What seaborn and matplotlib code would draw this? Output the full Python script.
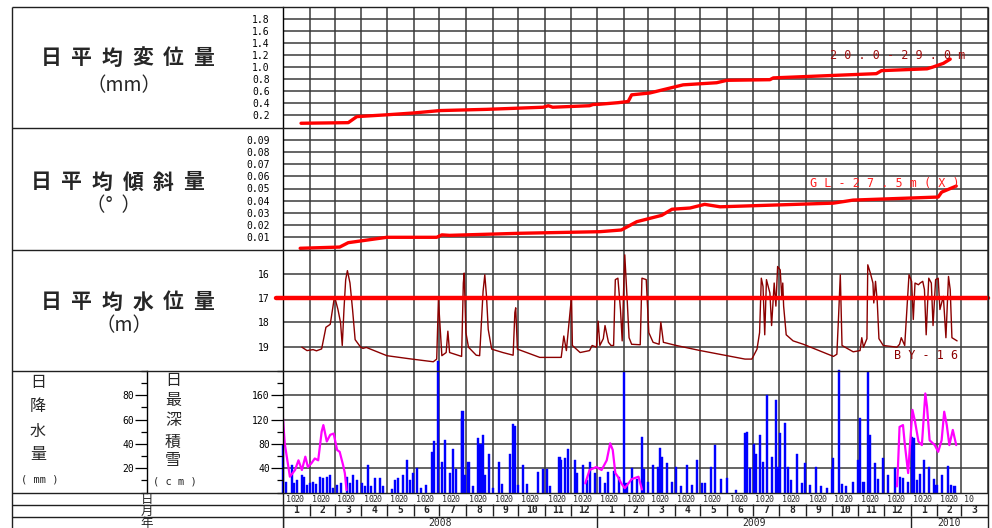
import numpy as np
import pandas as pd
import seaborn as sns
from matplotlib import pyplot as plt
from matplotlib.ticker import FixedLocator, MultipleLocator, FormatStrFormatter

# x values are days counted from 2008-01-01
# daily mean displacement (mm), 20.0-29.0m
disp_day = [21, 76, 86, 121, 152, 183, 237, 303, 309, 314,
            357, 361, 369, 390, 402, 406, 427, 466, 505, 517,
            567, 571, 691, 697, 750, 757, 769, 777]
disp_mm = [0.07, 0.08, 0.18, 0.21, 0.24, 0.28, 0.30, 0.335, 0.36, 0.335,
           0.36, 0.38, 0.385, 0.41, 0.43, 0.54, 0.57, 0.705, 0.74, 0.78,
           0.79, 0.82, 0.89, 0.94, 0.97, 1.0, 1.06, 1.13]

# daily mean tilt (deg), GL-27.5m(X)
tilt_day = [20, 66, 76, 121, 179, 185, 194, 276, 369, 394,
            412, 441, 453, 474, 491, 509, 641, 664, 763, 767, 784]
tilt_deg = [0.001, 0.002, 0.0056, 0.010, 0.010, 0.012, 0.0116, 0.0133, 0.0146, 0.016,
            0.0228, 0.028, 0.033, 0.034, 0.037, 0.035, 0.038, 0.0405, 0.043, 0.047, 0.052]

# daily mean water level (m below surface), BY-16
wl_day = [22, 28, 35, 39, 45, 50, 55, 58, 60, 64,
          67, 69, 71, 73, 75, 78, 81, 84, 90, 93,
          97, 121, 148, 175, 179, 181, 183, 185, 190, 192,
          194, 208, 210, 211, 213, 216, 225, 229, 233, 235,
          237, 239, 243, 256, 268, 270, 271, 273, 299, 324,
          327, 330, 334, 336, 337, 346, 357, 360, 365, 367,
          369, 373, 375, 379, 382, 385, 387, 390, 393, 395,
          397, 398, 401, 403, 406, 416, 418, 423, 426, 431,
          438, 440, 443, 458, 486, 538, 546, 552, 555, 557,
          559, 561, 563, 567, 569, 572, 574, 576, 579, 581,
          582, 583, 586, 594, 606, 641, 645, 647, 649, 651,
          664, 672, 674, 676, 680, 681, 684, 687, 688, 690,
          692, 694, 699, 715, 718, 720, 724, 729, 732, 734,
          736, 740, 742, 745, 747, 749, 752, 755, 757, 760,
          763, 765, 769, 772, 775, 777, 779, 785]
wl_m = [19.02, 19.16, 19.12, 19.17, 19.09, 18.2, 18.08, 17.4, 16.93, 17.47,
        18.0, 18.95, 17.47, 16.24, 15.87, 16.38, 17.47, 18.71, 19.0, 19.07,
        19.03, 19.37, 19.5, 19.62, 19.51, 17.06, 18.2, 19.37, 19.24, 18.36,
        19.24, 19.4, 16.38, 15.97, 18.42, 19.02, 19.35, 19.37, 16.72, 16.04,
        16.93, 18.29, 19.1, 19.24, 19.35, 17.6, 17.4, 19.1, 19.44, 19.44,
        18.56, 19.16, 17.67, 16.93, 18.95, 19.24, 19.16, 18.95, 19.02, 17.95,
        18.95, 18.67, 18.13, 18.82, 18.95, 18.95, 16.24, 16.18, 17.47, 18.76,
        16.24, 15.22, 17.2, 18.63, 18.9, 18.92, 16.18, 16.24, 18.42, 18.82,
        18.9, 17.99, 18.82, 18.95, 19.16, 19.51, 19.51, 19.1, 18.42, 16.18,
        16.52, 18.51, 16.24, 16.79, 18.13, 16.38, 17.33, 15.7, 15.84, 17.06,
        16.38, 17.33, 18.51, 18.76, 18.9, 19.4, 19.31, 17.74, 16.04, 18.95,
        19.21, 19.16, 18.63, 19.02, 18.67, 15.63, 15.97, 16.38, 17.2, 16.31,
        17.13, 18.67, 18.95, 19.02, 18.9, 18.63, 18.95, 16.04, 16.31, 17.88,
        16.38, 16.45, 16.38, 16.31, 16.65, 18.51, 16.18, 16.38, 18.13, 16.24,
        16.18, 17.47, 16.93, 18.63, 16.11, 16.65, 18.63, 18.76]
wl_alert = 17.0

# daily deepest snow (cm), one list per winter
snow_day = [0, 2, 8, 14, 18, 22, 26, 29, 33, 37, 41, 45, 47, 51, 55, 59, 63, 66, 70, 72, 74,
            352, 357, 365, 371, 377, 381, 384, 387, 390, 394, 398, 406, 414, 418,
            715, 716, 718, 722, 724, 728, 730, 733, 736, 740, 744, 748, 750, 753, 759, 763,
            767, 770, 773, 776, 780, 784]
snow_cm = [122, 81, 26, 37, 53, 37, 59, 42, 48, 56, 53, 100, 111, 84, 95, 97, 70, 67, 45, 32, 4,
           15, 37, 42, 37, 53, 81, 70, 32, 26, 15, 7, 22, 26, 5,
           10, 37, 108, 111, 81, 32, 75, 136, 117, 84, 78, 163, 141, 86, 78, 67,
           86, 133, 111, 78, 103, 78]
snow_winter = ["2007-08"] * 21 + ["2008-09"] * 14 + ["2009-10"] * 22

# daily precipitation (mm)
rain_day = [0, 4, 10, 13, 16, 22, 24, 28, 31, 35, 38, 43, 47, 51, 55, 58, 63, 68, 74, 78,
            82, 86, 92, 95, 99, 103, 107, 113, 116, 127, 130, 134, 140, 144, 148, 151, 156, 161, 167, 173,
            176, 180, 185, 189, 194, 198, 202, 208, 209, 212, 216, 221, 227, 230, 233, 235, 240, 245, 251, 255,
            264, 268, 270, 274, 279, 284, 297, 303, 307, 311, 322, 324, 328, 332, 340, 342, 349, 354, 357, 363,
            369, 375, 379, 385, 391, 397, 400, 406, 412, 418, 420, 425, 431, 437, 439, 441, 447, 453, 458, 463,
            470, 476, 482, 488, 491, 498, 503, 510, 517, 527, 538, 540, 544, 548, 551, 555, 559, 564, 569, 574,
            577, 579, 585, 588, 592, 599, 604, 608, 614, 621, 627, 633, 639, 641, 647, 651, 656, 664, 670, 672,
            676, 681, 684, 689, 693, 699, 705, 713, 718, 722, 728, 732, 735, 738, 742, 747, 752, 758, 761, 767,
            774, 778, 782]
rain_mm = [39, 9, 23, 8, 10, 14, 13, 6, 8, 9, 7, 13, 12, 13, 14, 4, 6, 8, 13, 8,
           14, 10, 8, 5, 23, 5, 12, 12, 5, 3, 10, 12, 14, 27, 10, 16, 20, 4, 6, 33,
           42, 108, 25, 43, 16, 36, 19, 61, 67, 14, 25, 5, 45, 40, 47, 14, 32, 4, 25, 7,
           32, 56, 55, 6, 23, 7, 17, 19, 19, 5, 29, 27, 28, 36, 27, 16, 23, 10, 25, 16,
           13, 8, 17, 18, 13, 99, 8, 20, 11, 46, 19, 9, 23, 21, 37, 29, 24, 9, 21, 5,
           23, 6, 27, 8, 8, 21, 39, 11, 12, 2, 49, 50, 20, 40, 32, 47, 25, 80, 29, 76,
           21, 49, 57, 21, 10, 32, 8, 24, 6, 21, 5, 4, 19, 28, 101, 7, 5, 9, 27, 61,
           9, 99, 47, 24, 11, 28, 14, 20, 13, 12, 9, 46, 45, 10, 15, 27, 21, 11, 6, 14,
           22, 6, 5]

# tick labels
disp_ticks = [0.2, 0.4, 0.6, 0.8, 1.0, 1.2, 1.4, 1.6, 1.8]
tilt_ticks = [0.01, 0.02, 0.03, 0.04, 0.05, 0.06, 0.07, 0.08, 0.09]
wl_ticks = [16, 17, 18, 19]
snow_ticks = [40, 80, 120, 160]
rain_ticks = [20, 40, 60, 80]

sns.set_style("white")
plt.rcParams["font.family"] = ["Noto Sans CJK JP", "DejaVu Sans"]

W, H = 992, 528
fig = plt.figure(figsize=(W / 100, H / 100), dpi=100)


def px_box(x0, y0, x1, y1):
    return [x0 / W, 1 - y1 / H, (x1 - x0) / W, (y1 - y0) / H]


GRID = "#3a3a3a"
MONO = "DejaVu Sans Mono"
X0, X1 = 283, 988

months = pd.date_range("2008-01-01", "2010-04-01", freq="MS")
month_start = (months - months[0]).days.to_numpy()
x_end = month_start[-1]


def setup(ax, ylim, ticks, minor, fmt):
    ax.set_xlim(0, x_end)
    ax.set_ylim(*ylim)
    ax.set_xticks(month_start)
    ax.yaxis.set_major_locator(FixedLocator(ticks))
    ax.yaxis.set_minor_locator(MultipleLocator(minor))
    ax.yaxis.set_major_formatter(FormatStrFormatter(fmt))
    ax.tick_params(axis="x", length=0, labelbottom=False)
    ax.tick_params(axis="y", which="major", length=8.5, width=0.9, pad=1,
                   labelsize=7, labelfontfamily=MONO, colors="black")
    ax.tick_params(axis="y", which="minor", length=4.3, width=0.9, colors="black")
    ax.grid(True, which="major", color=GRID, lw=1.1)
    for s in ("top", "right", "bottom"):
        ax.spines[s].set_visible(False)
    ax.spines["left"].set_color("black")
    ax.spines["left"].set_linewidth(1)
    ax.set_xlabel("")
    ax.set_ylabel("")


# displacement
ax1 = fig.add_axes(px_box(X0, 6.5, X1, 127.5))
sns.lineplot(x=disp_day, y=disp_mm, ax=ax1, color="#ff0000", lw=2.4,
             estimator=None, errorbar=None)
setup(ax1, (0, 2.0), disp_ticks, 0.1, "%.1f")
ax1.text(0.872, 0.593, "2 0 . 0 - 2 9 . 0 m", transform=ax1.transAxes, ha="center",
         va="center", fontsize=8.5, family=MONO, color="#a01010")

# tilt
ax2 = fig.add_axes(px_box(X0, 127.5, X1, 249.5))
sns.lineplot(x=tilt_day, y=tilt_deg, ax=ax2, color="#ff0000", lw=2.4,
             estimator=None, errorbar=None)
setup(ax2, (0, 0.10), tilt_ticks, 0.005, "%.2f")
ax2.text(0.854, 0.545, "G L - 2 7 . 5 m ( X )", transform=ax2.transAxes, ha="center",
         va="center", fontsize=8.5, family=MONO, color="#ff2020")

# water level (depth, inverted)
ax3 = fig.add_axes(px_box(X0, 249.5, X1, 371))
sns.lineplot(x=wl_day, y=wl_m, ax=ax3, color="#8b0000", lw=1.0,
             estimator=None, errorbar=None, zorder=2)
ax3.axhline(wl_alert, xmin=-0.01, color="#ff0000", lw=3.2, clip_on=False, zorder=3)
setup(ax3, (20, 15), wl_ticks, 0.5, "%d")
ax3.text(0.912, 0.13, "B Y - 1 6", transform=ax3.transAxes, ha="center",
         va="center", fontsize=8.5, family=MONO, color="#8b0000")

# precipitation bars + snow depth
ax4b = fig.add_axes(px_box(X0, 371, X1, 492.5))
ax4b.bar(rain_day, rain_mm, width=2.4, color="#0000ff", edgecolor="#0000ff",
         linewidth=0.3, clip_on=False, zorder=2)
setup(ax4b, (0, 100), rain_ticks, 10, "%d")
ax4b.set_axisbelow(True)
ax4b.spines["left"].set_position(("axes", (147 - X0) / (X1 - X0)))

ax4 = ax4b.twinx()
snow_df = pd.DataFrame({"day": snow_day, "cm": snow_cm, "winter": snow_winter})
sns.lineplot(data=snow_df, x="day", y="cm", units="winter", ax=ax4, color="#ff00ff",
             lw=1.6, estimator=None, errorbar=None)
setup(ax4, (0, 200), snow_ticks, 20, "%d")
ax4.grid(False)
ax4.yaxis.set_ticks_position("left")
ax4.spines["left"].set_visible(True)

# date rows under the chart
axd = fig.add_axes(px_box(X0, 492.5, X1, 528))
axd.set_xlim(0, x_end)
axd.set_ylim(3, 0)
axd.axis("off")
axd.vlines(month_start, 1, 2, color="#202020", lw=1)
year_start = month_start[months.month == 1]
axd.vlines(year_start, 2, 3, color="#202020", lw=1)
for m in range(len(months) - 1):
    for d in (10, 20):
        xd = month_start[m] + d - 1
        if xd < 805:
            axd.text(xd, 0.55, str(d), ha="center", va="center", fontsize=6, family=MONO)
    axd.text((month_start[m] + month_start[m + 1]) / 2, 1.5, str(months[m].month),
             ha="center", va="center", fontsize=7, family=MONO, weight="bold")
year_edges = list(year_start) + [x_end]
for i, yr in enumerate(months.year.unique()):
    axd.text((year_edges[i] + year_edges[i + 1]) / 2, 2.55, str(yr),
             ha="center", va="center", fontsize=7, family=MONO)

# frame and left-hand labels
ov = fig.add_axes([0, 0, 1, 1], zorder=5)
ov.set_xlim(0, W)
ov.set_ylim(H, 0)
ov.axis("off")
ov.vlines([12, X1], 6.5, H, color="#202020", lw=1)
ov.hlines([6.5, 127.5, 249.5, 371, 492.5, 505, 517], 12, X1, color="#202020", lw=1)
ov.vlines(X0, 492.5, H, color="#202020", lw=1)


def spaced(x_first, x_last, y, s, size):
    n = len(s)
    for i, ch in enumerate(s):
        ov.text(x_first + (x_last - x_first) * i / (n - 1), y, ch, fontsize=size,
                ha="center", va="center", weight="bold")


spaced(51, 204, 58, "日平均変位量", 15)
ov.text(124, 86, "（mm）", fontsize=14, ha="center", va="center")
spaced(41, 194, 182, "日平均傾斜量", 15)
ov.text(113, 206, "（°  ）", fontsize=14, ha="center", va="center")
spaced(51, 204, 302, "日平均水位量", 15)
ov.text(124, 326, "（m）", fontsize=14, ha="center", va="center")

for ch, y in zip("日降水量", [383, 407, 431, 455]):
    ov.text(38, y, ch, fontsize=11.5, ha="center", va="center")
ov.text(40, 480, "( mm )", fontsize=7.5, family=MONO, ha="center", va="center")
for ch, y in zip("日最深積雪", [381, 401, 421, 442, 461]):
    ov.text(173, y, ch, fontsize=11.5, ha="center", va="center")
ov.text(175, 482, "( c m )", fontsize=7.5, family=MONO, ha="center", va="center")

ov.text(147, 499, "日", fontsize=9, ha="center", va="center")
ov.text(147, 511, "月", fontsize=9, ha="center", va="center")
ov.text(147, 523, "年", fontsize=9, ha="center", va="center")

fig.savefig("out.png", dpi=100)
